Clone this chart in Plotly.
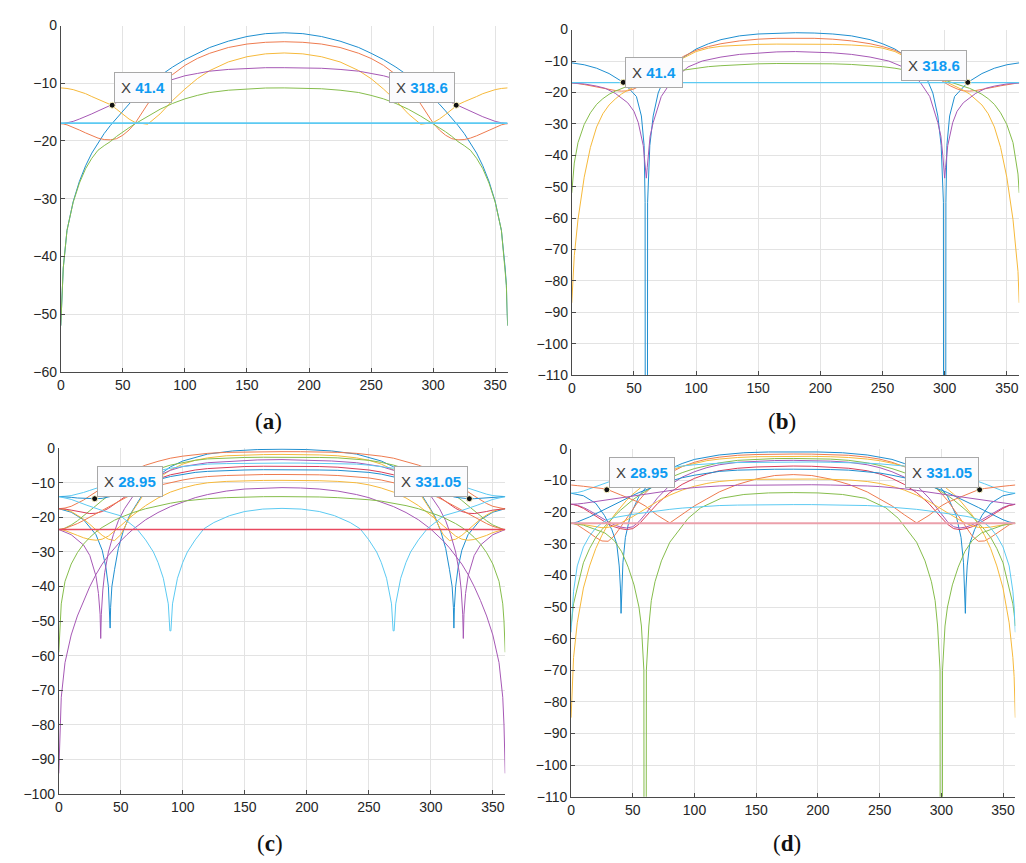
import plotly.graph_objects as go

# ---------------- data (angles in degrees, levels in dB) ----------------
G = [0, 1, 2, 5, 10, 15, 20, 25, 30, 35, 40, 45, 50, 55, 60, 70, 80, 90, 100, 110, 120, 135, 150, 165, 180,
     195, 210, 225, 240, 250, 260, 270, 280, 290, 300, 305, 310, 315, 320, 325, 330, 335, 340, 345, 350, 355, 358, 359, 360]
FLAT_X = [0, 360]

# (a)
a_blue = [-52, -45, -42, -35.5, -30.5, -27, -24.3, -22.1, -20.3, -18.7, -17.3, -16, -14.8, -13.6, -12.5, -10.5, -8.7, -7.2, -5.9, -4.8, -3.8, -2.7, -1.9, -1.4, -1.25,
          -1.4, -1.9, -2.7, -3.8, -4.8, -5.9, -7.2, -8.7, -10.5, -12.5, -13.6, -14.8, -16, -17.3, -18.7, -20.3, -22.1, -24.3, -27, -30.5, -35.5, -42, -45, -52]
a_orange = [-17, -17, -17.05, -17.2, -17.6, -18.1, -18.6, -19.1, -19.5, -19.75, -19.8, -19.6, -19, -18.1, -16.9, -13.6, -10.6, -8.5, -6.9, -5.7, -4.8, -3.8, -3.2, -2.9, -2.8,
            -2.9, -3.2, -3.8, -4.8, -5.7, -6.9, -8.5, -10.6, -13.6, -16.9, -18.1, -19, -19.6, -19.8, -19.75, -19.5, -19.1, -18.6, -18.1, -17.6, -17.2, -17.05, -17, -17]
a_yellow = [-10.8, -10.8, -10.8, -10.9, -11.1, -11.4, -11.8, -12.3, -12.8, -13.2, -13.7, -14.5, -15.4, -16.2, -16.8, -17.1, -15.3, -13, -11, -9.2, -7.8, -6.3, -5.4, -4.9, -4.75,
            -4.9, -5.4, -6.3, -7.8, -9.2, -11, -13, -15.3, -17.1, -16.8, -16.2, -15.4, -14.5, -13.7, -13.2, -12.8, -12.3, -11.8, -11.4, -11.1, -10.9, -10.8, -10.8, -10.8]
a_purple = [-17, -17, -16.95, -16.85, -16.6, -16.2, -15.8, -15.3, -14.8, -14.3, -13.9, -13.4, -12.9, -12.4, -11.9, -10.9, -10, -9.3, -8.7, -8.3, -7.9, -7.6, -7.4, -7.3, -7.3,
            -7.3, -7.4, -7.6, -7.9, -8.3, -8.7, -9.3, -10, -10.9, -11.9, -12.4, -12.9, -13.4, -13.9, -14.3, -14.8, -15.3, -15.8, -16.2, -16.6, -16.85, -16.95, -17, -17]
a_green = [-52, -45, -42, -35.5, -30.6, -27.3, -24.8, -23, -21.6, -20.8, -20.1, -19.2, -18.4, -17.7, -17, -15.7, -14.5, -13.5, -12.7, -12.1, -11.6, -11.2, -10.95, -10.82, -10.8,
           -10.82, -10.95, -11.2, -11.6, -12.1, -12.7, -13.5, -14.5, -15.7, -17, -17.7, -18.4, -19.2, -20.1, -20.8, -21.6, -23, -24.8, -27.3, -30.6, -35.5, -42, -45, -52]
a_cyan = [-16.9, -16.9]

# (b)
b_blue_x = [0, 10, 20, 30, 41.4, 46, 52, 56, 58.2, 59, 59.1, 60.9, 61, 62.8, 65.5, 69.5, 75, 80, 90, 100, 110, 120, 135, 150, 165, 180,
            195, 210, 225, 240, 250, 260, 270, 280, 285, 290.5, 294.5, 297.2, 299, 299.1, 300.9, 301, 301.8, 304, 308, 314, 318.6, 330, 340, 350, 360]
b_blue = [-10.6, -11.2, -12.3, -14, -16.8, -18.7, -21.3, -27.5, -36.9, -55, -125, -125, -55, -36.9, -27.5, -20.2, -15, -12.3, -8.8, -6.2, -4.5, -3.2, -2, -1.4, -1.1, -1.0,
          -1.1, -1.4, -2, -3.2, -4.5, -6.2, -8.8, -12.3, -15, -20.2, -27.5, -36.9, -55, -125, -125, -55, -36.9, -27.5, -21.3, -18.7, -16.8, -14, -12.3, -11.2, -10.6]
b_orange = [-17, -17, -17.05, -17.2, -17.5, -17.9, -18.3, -18.7, -19.1, -19.4, -19.6, -19.5, -18.9, -18, -16.9, -14, -11, -8.5, -6.6, -5.4, -4.5, -3.6, -3.05, -2.78, -2.7,
            -2.78, -3.05, -3.6, -4.5, -5.4, -6.6, -8.5, -11, -14, -16.9, -18, -18.9, -19.5, -19.6, -19.4, -19.1, -18.7, -18.3, -17.9, -17.5, -17.2, -17.05, -17, -17]
b_yellow = [-87, -77, -72, -60.5, -47, -37.5, -31, -26.8, -24, -22.1, -20.5, -19.3, -18.3, -17.3, -16.4, -13.8, -11.3, -9, -7, -5.9, -5.3, -4.9, -4.7, -4.62, -4.6,
            -4.62, -4.7, -4.9, -5.3, -5.9, -7, -9, -11.3, -13.8, -16.4, -17.3, -18.3, -19.3, -20.5, -22.1, -24, -26.8, -31, -37.5, -47, -60.5, -72, -77, -87]
b_purple_x = [0, 10, 20, 27, 35, 45, 50, 53.5, 57.5, 59.3, 60, 60.7, 61.5, 63, 65.5, 72, 80, 93.5, 105, 120, 135, 150, 165, 180,
              195, 210, 225, 240, 255, 266.5, 280, 288, 294.5, 297, 298.5, 299.3, 300, 300.7, 302.5, 306.5, 310, 315, 325, 333, 340, 350, 360]
b_purple = [-17, -17.3, -18, -18.7, -20.3, -23.3, -26, -29.6, -36.9, -44, -47.3, -44, -40, -34, -29.6, -21.3, -16.6, -11.9, -10, -8.75, -7.9, -7.4, -7.1, -7.0,
            -7.1, -7.4, -7.9, -8.75, -10, -11.9, -16.6, -21.3, -29.6, -34, -40, -44, -47.3, -44, -36.9, -29.6, -26, -23.3, -20.3, -18.7, -18, -17.3, -17]
b_green = [-52, -46, -42.5, -36, -30.2, -26.5, -23.8, -22, -20.6, -19.6, -18.7, -18, -17.3, -16.7, -16.1, -14.8, -13.7, -12.9, -12.3, -11.8, -11.5, -11.1, -10.9, -10.8, -10.8,
           -10.8, -10.9, -11.1, -11.5, -11.8, -12.3, -12.9, -13.7, -14.8, -16.1, -16.7, -17.3, -18, -18.7, -19.6, -20.6, -22, -23.8, -26.5, -30.2, -36, -42.5, -46, -52]
b_cyan = [-16.9, -16.9]

# (c)
c_blue1_x = [0, 10, 20, 30, 35, 38, 40, 41, 41.4, 41.8, 42.8, 45, 48, 52, 57, 63, 70, 80, 90, 100, 120, 140, 160, 180,
             200, 220, 240, 260, 270, 280, 290, 297, 303, 308, 312, 315, 317.2, 318.2, 318.6, 319, 320, 322, 325, 330, 340, 350, 360]
c_blue1 = [-17.5, -18.5, -20.7, -25, -29.5, -34.5, -40, -46, -52, -46, -40, -35, -29, -24, -19.5, -16, -12, -8, -5.4, -3.7, -1.7, -0.8, -0.4, -0.3,
           -0.4, -0.8, -1.7, -3.7, -5.4, -8, -12, -16, -19.5, -24, -29, -35, -40, -46, -52, -46, -40, -34.5, -29.5, -25, -20.7, -18.5, -17.5]
c_purple1_x = [0, 10, 20, 25, 30, 32, 33.3, 33.8, 34.3, 35.5, 37, 40, 44, 48, 53, 60, 70, 80, 90, 100, 120, 140, 160, 180,
               200, 220, 240, 260, 270, 280, 290, 300, 307, 312, 316, 320, 323, 324.5, 325.7, 326.2, 326.7, 328, 330, 335, 340, 350, 360]
c_purple1 = [-23.5, -25, -28, -31, -37, -42, -48, -55, -48, -41, -36, -30, -25, -21, -17.5, -13.8, -10.3, -8, -6.4, -5.3, -4.2, -3.7, -3.4, -3.3,
             -3.4, -3.7, -4.2, -5.3, -6.4, -8, -10.3, -13.8, -17.5, -21, -25, -30, -36, -41, -48, -55, -48, -42, -37, -31, -28, -25, -23.5]
c_cyan2_x = [0, 10, 22.7, 35, 49.5, 62.9, 70, 76.3, 80, 84.3, 88.3, 89.6, 90.4, 91.7, 95.7, 100, 103.7, 110, 117, 125, 137.7, 150, 164.5, 180,
             195.5, 210, 222.3, 235, 243, 250, 256.3, 260, 264.3, 268.3, 269.6, 270.4, 271.7, 275.7, 280, 283.7, 290, 297.1, 310.5, 325, 337.3, 350, 360]
c_cyan2 = [-14, -14.8, -16.5, -18, -19.5, -23.3, -26.5, -30, -33, -37.6, -45, -52.8, -52.8, -45, -37.6, -33, -30, -26.5, -23.3, -21.5, -19.5, -18.3, -17.6, -17.4,
           -17.6, -18.3, -19.5, -21.5, -23.3, -26.5, -30, -33, -37.6, -45, -52.8, -52.8, -45, -37.6, -33, -30, -26.5, -23.3, -19.5, -18, -16.5, -14.8, -14]
c_orange1 = [-17.5, -17.5, -17.45, -17.3, -16.8, -16, -15, -13.8, -12.6, -11.4, -10.2, -9.1, -8, -7.1, -6.3, -4.9, -3.8, -2.9, -2.3, -1.8, -1.5, -1.2, -1.07, -1.02, -1.0,
             -1.02, -1.07, -1.2, -1.5, -1.8, -2.3, -2.9, -3.8, -4.9, -6.3, -7.1, -8, -9.1, -10.2, -11.4, -12.6, -13.8, -15, -16, -16.8, -17.3, -17.45, -17.5, -17.5]
c_yellow1 = [-17.5, -17.5, -17.5, -17.7, -18.3, -19.3, -20.5, -22, -23.6, -25.2, -26.3, -26.7, -25, -21.5, -18, -12.5, -8.8, -6.3, -4.6, -3.5, -2.8, -2.2, -1.95, -1.85, -1.8,
             -1.85, -1.95, -2.2, -2.8, -3.5, -4.6, -6.3, -8.8, -12.5, -18, -21.5, -25, -26.7, -26.3, -25.2, -23.6, -22, -20.5, -19.3, -18.3, -17.7, -17.5, -17.5, -17.5]
c_green1 = [-23.5, -23.5, -23.4, -23.1, -22.2, -21, -19.6, -18.1, -16.6, -15.1, -13.7, -12.4, -11.2, -10.1, -9.1, -7.4, -6, -4.9, -4.1, -3.5, -3.1, -2.8, -2.68, -2.62, -2.6,
            -2.62, -2.68, -2.8, -3.1, -3.5, -4.1, -4.9, -6, -7.4, -9.1, -10.1, -11.2, -12.4, -13.7, -15.1, -16.6, -18.1, -19.6, -21, -22.2, -23.1, -23.4, -23.5, -23.5]
c_cyan1 = [-14, -14, -14, -13.9, -13.7, -13.3, -12.8, -12.2, -11.6, -11, -10.4, -9.8, -9.2, -8.6, -8.1, -7.2, -6.4, -5.8, -5.3, -4.9, -4.6, -4.45, -4.35, -4.3, -4.3,
           -4.3, -4.35, -4.45, -4.6, -4.9, -5.3, -5.8, -6.4, -7.2, -8.1, -8.6, -9.2, -9.8, -10.4, -11, -11.6, -12.2, -12.8, -13.3, -13.7, -13.9, -14, -14, -14]
c_red1 = [-17.5, -17.5, -17.5, -17.6, -17.9, -18.3, -18.7, -18.9, -18.8, -18.3, -17.4, -16.2, -14.9, -13.6, -12.4, -10.4, -8.9, -7.7, -6.9, -6.3, -5.9, -5.5, -5.3, -5.22, -5.2,
          -5.22, -5.3, -5.5, -5.9, -6.3, -6.9, -7.7, -8.9, -10.4, -12.4, -13.6, -14.9, -16.2, -17.4, -18.3, -18.8, -18.9, -18.7, -18.3, -17.9, -17.6, -17.5, -17.5, -17.5]
c_blue2 = [-14, -14, -14, -14.1, -14.2, -14.4, -14.5, -14.6, -14.6, -14.5, -14.2, -13.7, -13.1, -12.4, -11.7, -10.3, -9.1, -8.2, -7.5, -7, -6.7, -6.4, -6.3, -6.22, -6.2,
           -6.22, -6.3, -6.4, -6.7, -7, -7.5, -8.2, -9.1, -10.3, -11.7, -12.4, -13.1, -13.7, -14.2, -14.5, -14.6, -14.6, -14.5, -14.4, -14.2, -14.1, -14, -14, -14]
c_orange2 = [-23.5, -23.5, -23.4, -23.2, -22.6, -21.8, -20.9, -19.9, -18.9, -17.9, -16.9, -15.9, -15, -14.1, -13.3, -11.9, -10.8, -9.9, -9.2, -8.6, -8.2, -7.9, -7.7, -7.62, -7.6,
             -7.62, -7.7, -7.9, -8.2, -8.6, -9.2, -9.9, -10.8, -11.9, -13.3, -14.1, -15, -15.9, -16.9, -17.9, -18.9, -19.9, -20.9, -21.8, -22.6, -23.2, -23.4, -23.5, -23.5]
c_yellow2 = [-23.5, -23.5, -23.55, -23.8, -24.4, -25.2, -25.9, -26.4, -26.6, -26.3, -25.4, -24, -22.4, -20.8, -19.3, -16.6, -14.4, -12.7, -11.5, -10.6, -10, -9.6, -9.4, -9.32, -9.3,
             -9.32, -9.4, -9.6, -10, -10.6, -11.5, -12.7, -14.4, -16.6, -19.3, -20.8, -22.4, -24, -25.4, -26.3, -26.6, -26.4, -25.9, -25.2, -24.4, -23.8, -23.55, -23.5, -23.5]
c_purple2 = [-94, -80, -72, -62, -54, -48.5, -44, -40, -36.5, -33.5, -31, -28.8, -26.8, -25, -23.4, -20.7, -18.6, -16.9, -15.5, -14.3, -13.4, -12.4, -11.8, -11.5, -11.4,
             -11.5, -11.8, -12.4, -13.4, -14.3, -15.5, -16.9, -18.6, -20.7, -23.4, -25, -26.8, -28.8, -31, -33.5, -36.5, -40, -44, -48.5, -54, -62, -72, -80, -94]
c_green2 = [-59, -50, -45, -38.5, -33.5, -30.2, -27.7, -25.8, -24.2, -22.9, -21.8, -20.8, -20, -19.3, -18.6, -17.5, -16.6, -15.9, -15.3, -14.9, -14.6, -14.3, -14.1, -14.02, -14,
            -14.02, -14.1, -14.3, -14.6, -14.9, -15.3, -15.9, -16.6, -17.5, -18.6, -19.3, -20, -20.8, -21.8, -22.9, -24.2, -25.8, -27.7, -30.2, -33.5, -38.5, -45, -50, -59]
c_red_flat = [-23.5, -23.5]

# (d)
d_blue1_x = [0, 10, 20, 27, 33, 37, 39, 40, 40.5, 41, 42, 44, 48, 55, 62, 70, 80, 90, 100, 120, 140, 160, 180,
             200, 220, 240, 260, 270, 280, 290, 298, 305, 312, 316, 318, 319, 319.5, 320, 321, 323, 327, 333, 340, 350, 360]
d_blue1 = [-14, -14.8, -17.2, -21, -25.5, -30, -37, -44, -52, -44, -36, -28, -21, -15, -11.5, -8.7, -6.3, -4.6, -3.3, -1.9, -1.2, -0.95, -0.9,
           -0.95, -1.2, -1.9, -3.3, -4.6, -6.3, -8.7, -11.5, -15, -21, -28, -36, -44, -52, -44, -37, -30, -25.5, -21, -17.2, -14.8, -14]
d_green1_x = [0, 10, 20, 27.5, 35, 41, 46.3, 51, 55, 57, 59, 59.1, 60.9, 61, 63, 65, 68, 73.2, 80, 94.7, 105, 121.6, 140, 160, 180,
              200, 220, 238.4, 255, 265.3, 280, 286.8, 292, 295, 297, 299, 299.1, 300.9, 301, 303, 305, 309, 313.7, 319, 325, 332.5, 340, 350, 360]
d_green1 = [-23.5, -24.1, -25.5, -26.6, -29, -32.5, -37.4, -43, -50, -56, -70, -125, -125, -70, -56, -48, -42, -35.4, -29.5, -22, -18.6, -15.6, -14.4, -13.9, -13.8,
            -13.9, -14.4, -15.6, -18.6, -22, -29.5, -35.4, -42, -48, -56, -70, -125, -125, -70, -56, -50, -43, -37.4, -32.5, -29, -26.6, -25.5, -24.1, -23.5]
d_orange1 = [-11.4, -11.4, -11.45, -11.6, -11.8, -12, -12.2, -12.5, -12.9, -13.6, -14.5, -15.3, -16, -16.9, -18, -21, -23.4, -20.8, -18, -15.8, -13.6, -11.2, -9.5, -8.4, -8.1,
             -8.4, -9.5, -11.2, -13.6, -15.8, -18, -20.8, -23.4, -21, -18, -16.9, -16, -15.3, -14.5, -13.6, -12.9, -12.5, -12.2, -12, -11.8, -11.6, -11.45, -11.4, -11.4]
d_orange2 = [-23.5, -23.5, -23.6, -24, -25.2, -26.6, -28, -29.1, -29.2, -27.5, -24.8, -21.9, -19, -16.3, -14, -10.3, -7.6, -5.6, -4.2, -3.2, -2.6, -2, -1.75, -1.63, -1.6,
             -1.63, -1.75, -2, -2.6, -3.2, -4.2, -5.6, -7.6, -10.3, -14, -16.3, -19, -21.9, -24.8, -27.5, -29.2, -29.1, -28, -26.6, -25.2, -24, -23.6, -23.5, -23.5]
d_cyan1 = [-14, -14, -14, -13.8, -13.3, -12.6, -11.8, -11, -10.3, -9.7, -9.1, -8.6, -8.1, -7.6, -7.2, -6.5, -5.9, -5.4, -5, -4.7, -4.5, -4.3, -4.2, -4.12, -4.1,
           -4.12, -4.2, -4.3, -4.5, -4.7, -5, -5.4, -5.9, -6.5, -7.2, -7.6, -8.1, -8.6, -9.1, -9.7, -10.3, -11, -11.8, -12.6, -13.3, -13.8, -14, -14, -14]
d_purple1 = [-17.5, -17.5, -17.5, -17.4, -17.2, -16.9, -16.6, -16.3, -16, -15.7, -15.4, -15.1, -14.8, -14.5, -14.2, -13.6, -13.1, -12.6, -12.2, -11.9, -11.7, -11.5, -11.4, -11.32, -11.3,
             -11.32, -11.4, -11.5, -11.7, -11.9, -12.2, -12.6, -13.1, -13.6, -14.2, -14.5, -14.8, -15.1, -15.4, -15.7, -16, -16.3, -16.6, -16.9, -17.2, -17.4, -17.5, -17.5, -17.5]
d_purple2 = [-17.5, -17.5, -17.55, -17.8, -18.5, -19.5, -20.7, -21.9, -23, -24, -24.7, -25, -24.6, -23, -20.7, -15.5, -11.5, -8.9, -7.2, -5.9, -5, -4.2, -3.85, -3.66, -3.6,
             -3.66, -3.85, -4.2, -5, -5.9, -7.2, -8.9, -11.5, -15.5, -20.7, -23, -24.6, -25, -24.7, -24, -23, -21.9, -20.7, -19.5, -18.5, -17.8, -17.55, -17.5, -17.5]
d_red1 = [-17.5, -17.5, -17.6, -17.9, -18.8, -20, -21.3, -22.6, -23.7, -24.6, -25.2, -25.5, -25.2, -23.8, -21.7, -17.3, -13.8, -11.2, -9.3, -7.9, -6.9, -6.1, -5.7, -5.47, -5.4,
          -5.47, -5.7, -6.1, -6.9, -7.9, -9.3, -11.2, -13.8, -17.3, -21.7, -23.8, -25.2, -25.5, -25.2, -24.6, -23.7, -22.6, -21.3, -20, -18.8, -17.9, -17.6, -17.5, -17.5]
d_blue2 = [-23.5, -23.5, -23.4, -23.1, -22.4, -21.5, -20.5, -19.5, -18.5, -17.5, -16.5, -15.6, -14.7, -13.8, -13, -11.5, -10.2, -9.1, -8.3, -7.6, -7.1, -6.7, -6.5, -6.42, -6.4,
           -6.42, -6.5, -6.7, -7.1, -7.6, -8.3, -9.1, -10.2, -11.5, -13, -13.8, -14.7, -15.6, -16.5, -17.5, -18.5, -19.5, -20.5, -21.5, -22.4, -23.1, -23.4, -23.5, -23.5]
d_green2 = [-56, -52, -49, -44, -36, -31.5, -28, -25.5, -23.3, -21.3, -19.4, -17.7, -16.1, -14.7, -13.4, -11, -9.1, -7.5, -6.2, -5.2, -4.4, -3.6, -3.2, -3.04, -3.0,
            -3.04, -3.2, -3.6, -4.4, -5.2, -6.2, -7.5, -9.1, -11, -13.4, -14.7, -16.1, -17.7, -19.4, -21.3, -23.3, -25.5, -28, -31.5, -36, -44, -49, -52, -56]
d_yellow1 = [-85, -72, -66, -55, -44, -37, -31.5, -27.3, -23.8, -20.9, -18.4, -16.2, -14.3, -12.6, -11.1, -8.7, -6.9, -5.5, -4.5, -3.7, -3.2, -2.7, -2.45, -2.33, -2.3,
             -2.33, -2.45, -2.7, -3.2, -3.7, -4.5, -5.5, -6.9, -8.7, -11.1, -12.6, -14.3, -16.2, -18.4, -20.9, -23.8, -27.3, -31.5, -37, -44, -55, -66, -72, -85]
d_yellow2 = [-23.5, -23.5, -23.5, -23.6, -23.9, -24.3, -24.7, -24.9, -24.8, -24.3, -23.5, -22.5, -21.4, -20.2, -19, -16.6, -14.6, -13, -11.8, -10.9, -10.3, -9.8, -9.6, -9.52, -9.5,
             -9.52, -9.6, -9.8, -10.3, -10.9, -11.8, -13, -14.6, -16.6, -19, -20.2, -21.4, -22.5, -23.5, -24.3, -24.8, -24.9, -24.7, -24.3, -23.9, -23.6, -23.5, -23.5, -23.5]
d_cyan2 = [-58, -50, -45, -37, -31, -27.5, -25, -23.4, -22.3, -21.7, -21.3, -21, -20.7, -20.4, -20.1, -19.6, -19.1, -18.7, -18.4, -18.1, -17.9, -17.75, -17.65, -17.6, -17.6,
           -17.6, -17.65, -17.75, -17.9, -18.1, -18.4, -18.7, -19.1, -19.6, -20.1, -20.4, -20.7, -21, -21.3, -21.7, -22.3, -23.4, -25, -27.5, -31, -37, -45, -50, -58]
d_pink_flat = [-23.5, -23.5]

# data tips
tip_a_x, tip_a_y, tip_a_txt = [41.4, 318.6], [-13.8, -13.8], ["41.4", "318.6"]
tip_b_x, tip_b_y, tip_b_txt = [41.4, 318.6], [-16.8, -16.8], ["41.4", "318.6"]
tip_c_x, tip_c_y, tip_c_txt = [28.95, 331.05], [-14.6, -14.6], ["28.95", "331.05"]
tip_d_x, tip_d_y, tip_d_txt = [28.95, 331.05], [-12.9, -12.9], ["28.95", "331.05"]

panel_labels = ["a", "b", "c", "d"]
y_ranges = [(-60, 0), (-110, 0), (-100, 0), (-110, 0)]

# ---------------- style ----------------
BLUE = "#1f8fd0"
ORANGE = "#ee7b4f"
YELLOW = "#f6b93b"
PURPLE = "#a658b5"
GREEN = "#86bd4c"
CYAN = "#5ccaf2"
RED = "#d83e5a"
FLATRED = "#e8485f"
PINK = "#eba0ab"
W, H = 1026, 863

fig = go.Figure()


def add(ax, x, y, color, width=1.0):
    fig.add_trace(go.Scatter(x=x, y=y, mode="lines", line=dict(color=color, width=width),
                             xaxis="x" + ax, yaxis="y" + ax, showlegend=False, hoverinfo="skip"))


# (a)
add("", G, a_blue, BLUE)
add("", G, a_orange, ORANGE)
add("", G, a_yellow, YELLOW)
add("", G, a_purple, PURPLE)
add("", G, a_green, GREEN)
add("", FLAT_X, a_cyan, CYAN, 1.6)
# (b)
add("2", b_blue_x, b_blue, BLUE)
add("2", G, b_orange, ORANGE)
add("2", G, b_yellow, YELLOW)
add("2", b_purple_x, b_purple, PURPLE)
add("2", G, b_green, GREEN)
add("2", FLAT_X, b_cyan, CYAN, 1.3)
# (c)
add("3", c_blue1_x, c_blue1, BLUE)
add("3", G, c_orange1, ORANGE)
add("3", G, c_yellow1, YELLOW)
add("3", c_purple1_x, c_purple1, PURPLE)
add("3", G, c_green1, GREEN)
add("3", G, c_cyan1, CYAN)
add("3", G, c_red1, RED)
add("3", G, c_blue2, BLUE)
add("3", G, c_orange2, ORANGE)
add("3", G, c_yellow2, YELLOW)
add("3", G, c_purple2, PURPLE)
add("3", G, c_green2, GREEN)
add("3", c_cyan2_x, c_cyan2, CYAN)
add("3", FLAT_X, c_red_flat, FLATRED, 1.4)
# (d)
add("4", d_blue1_x, d_blue1, BLUE)
add("4", G, d_orange2, ORANGE)
add("4", G, d_yellow1, YELLOW)
add("4", G, d_purple2, PURPLE)
add("4", G, d_green2, GREEN)
add("4", G, d_cyan1, CYAN)
add("4", G, d_red1, RED)
add("4", G, d_blue2, BLUE)
add("4", G, d_orange1, ORANGE)
add("4", G, d_yellow2, YELLOW)
add("4", G, d_purple1, PURPLE)
add("4", d_green1_x, d_green1, GREEN)
add("4", G, d_cyan2, CYAN)
add("4", FLAT_X, d_pink_flat, PINK, 2.2)

# tip dots
for ax, tx, ty in [("", tip_a_x, tip_a_y), ("2", tip_b_x, tip_b_y), ("3", tip_c_x, tip_c_y), ("4", tip_d_x, tip_d_y)]:
    fig.add_trace(go.Scatter(x=tx, y=ty, mode="markers", marker=dict(color="#111111", size=6,
                             line=dict(color="#fff8c8", width=1)),
                             xaxis="x" + ax, yaxis="y" + ax, showlegend=False, hoverinfo="skip"))

# axes geometry (pixel boxes)
boxes = [
    (57, 505.6, 17.9, 370.7),
    (570, 1019.2, 22, 374),
    (55, 503.2, 448.5, 801),
    (569.3, 1015.3, 449.3, 803.6),
]
AXC = "#4a4a4a"
TF = dict(family="Liberation Sans, Arial, sans-serif", size=14, color="#262626")
layout = dict(width=W, height=H, margin=dict(l=0, r=0, t=0, b=0), paper_bgcolor="white",
              plot_bgcolor="white", showlegend=False)
for i, (x0, x1, y0, y1) in enumerate(boxes):
    s = "" if i == 0 else str(i + 1)
    layout["xaxis" + s] = dict(domain=[x0 / W, x1 / W], range=[0, 360], anchor="y" + s,
                               tickvals=[0, 50, 100, 150, 200, 250, 300, 350],
                               showgrid=True, gridcolor="#e3e3e3", gridwidth=1,
                               showline=True, linecolor=AXC, linewidth=1,
                               ticks="inside", ticklen=4, tickcolor=AXC,
                               tickfont=TF, zeroline=False, fixedrange=True)
    lo, hi = y_ranges[i]
    layout["yaxis" + s] = dict(domain=[1 - y1 / H, 1 - y0 / H], range=[lo, hi], anchor="x" + s,
                               tickvals=list(range(lo, hi + 1, 10)),
                               showgrid=True, gridcolor="#e3e3e3", gridwidth=1,
                               showline=True, linecolor=AXC, linewidth=1,
                               ticks="inside", ticklen=4, tickcolor=AXC,
                               tickfont=TF, zeroline=False, fixedrange=True)
fig.update_layout(**layout)

# data tip boxes
def tip(ax, x, y, txt, left, yshift):
    fig.add_annotation(x=x, y=y, xref="x" + ax, yref="y" + ax, showarrow=False,
                       text="<span style='color:#404040'>X </span><b><span style='color:#0f9bf2'>" + txt + "</span></b>",
                       font=dict(family="Liberation Sans, Arial, sans-serif", size=15),
                       xanchor="left" if left else "right", yanchor="bottom",
                       xshift=2 if left else -1, yshift=yshift,
                       bgcolor="#fbfbfd", bordercolor="#a8a8a8", borderwidth=1, borderpad=6)


tip("", tip_a_x[0], tip_a_y[0], tip_a_txt[0], True, 2)
tip("", tip_a_x[1], tip_a_y[1], tip_a_txt[1], False, 2)
tip("2", tip_b_x[0], tip_b_y[0], tip_b_txt[0], True, -6)
tip("2", tip_b_x[1], tip_b_y[1], tip_b_txt[1], False, 1)
tip("3", tip_c_x[0], tip_c_y[0], tip_c_txt[0], True, 2)
tip("3", tip_c_x[1], tip_c_y[1], tip_c_txt[1], False, 2)
tip("4", tip_d_x[0], tip_d_y[0], tip_d_txt[0], True, 2)
tip("4", tip_d_x[1], tip_d_y[1], tip_d_txt[1], False, 2)

# panel labels
label_pos = [(266, 421), (781, 421), (267, 851), (786, 851)]
for lab, (px, py) in zip(panel_labels, label_pos):
    fig.add_annotation(x=px / W, y=1 - py / H, xref="paper", yref="paper", showarrow=False,
                       text="(<b>" + lab + "</b>)", xanchor="center", yanchor="middle",
                       font=dict(family="Liberation Serif, Times New Roman, serif", size=23, color="#111111"))

fig.write_html("out.html")
